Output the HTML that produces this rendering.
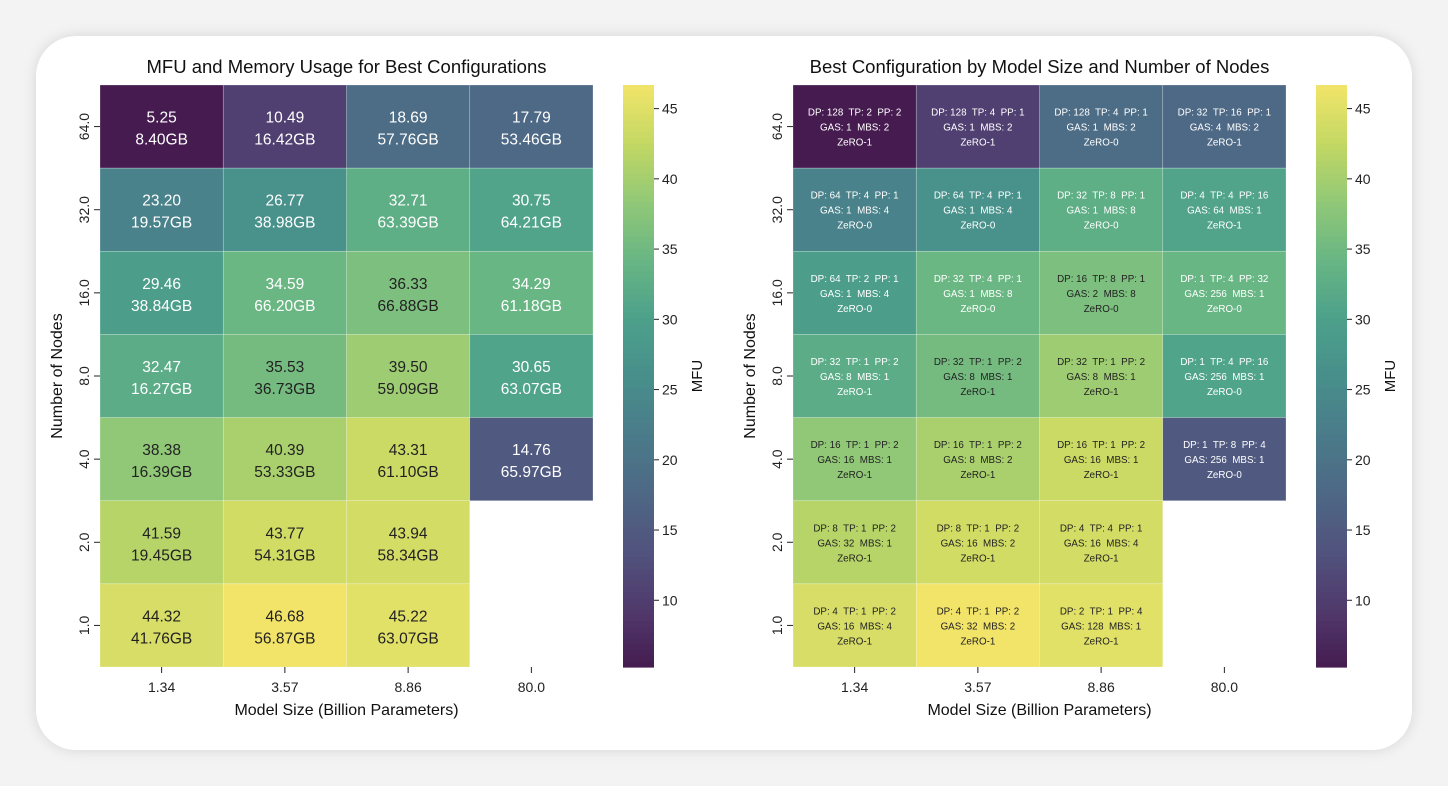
<!DOCTYPE html>
<html><head><meta charset="utf-8"><style>
html,body{margin:0;padding:0;width:1448px;height:786px;overflow:hidden;background:#f3f3f3;}
#card{position:absolute;left:36px;top:36px;width:1376px;height:714px;background:#fff;border-radius:40px;box-shadow:0 0 14px rgba(0,0,0,0.12);}
svg{position:absolute;left:0;top:0;}
text{font-family:"Liberation Sans",sans-serif;}
</style></head><body>
<div id="card"></div>
<svg id="s" width="1448" height="786" xmlns="http://www.w3.org/2000/svg"></svg>
<script>
const stops=["#440154","#482475","#414487","#355f8d","#2a788e","#21918c","#22a884","#44bf70","#7ad151","#bddf26","#fde725"];
function hex(h){return [1,3,5].map(i=>parseInt(h.substr(i,2),16));}
function vir(t){t=Math.max(0,Math.min(1,t));const p=t*10,i=Math.min(9,Math.floor(p)),f=p-i;const a=hex(stops[i]),b=hex(stops[i+1]);return a.map((v,k)=>v+(b[k]-v)*f);}
function desat(c,s){const g=0.299*c[0]+0.587*c[1]+0.114*c[2];return c.map(v=>Math.max(0,Math.min(255,g+s*(v-g))));}
function rgb(c){return `rgb(${c.map(Math.round).join(",")})`;}
const vmin=5.25,vmax=46.68,S=0.68,A=0.93;
function colr(v){return desat(vir((v-vmin)/(vmax-vmin)),S).map(x=>x*A+255*(1-A));}
const mfu=[[5.25,10.49,18.69,17.79],[23.20,26.77,32.71,30.75],[29.46,34.59,36.33,34.29],[32.47,35.53,39.50,30.65],[38.38,40.39,43.31,14.76],[41.59,43.77,43.94,null],[44.32,46.68,45.22,null]];
const mem=[["8.40GB","16.42GB","57.76GB","53.46GB"],["19.57GB","38.98GB","63.39GB","64.21GB"],["38.84GB","66.20GB","66.88GB","61.18GB"],["16.27GB","36.73GB","59.09GB","63.07GB"],["16.39GB","53.33GB","61.10GB","65.97GB"],["19.45GB","54.31GB","58.34GB",""],["41.76GB","56.87GB","63.07GB",""]];
const cfg=[
[["DP: 128  TP: 2  PP: 2","GAS: 1  MBS: 2","ZeRO-1"],["DP: 128  TP: 4  PP: 1","GAS: 1  MBS: 2","ZeRO-1"],["DP: 128  TP: 4  PP: 1","GAS: 1  MBS: 2","ZeRO-0"],["DP: 32  TP: 16  PP: 1","GAS: 4  MBS: 2","ZeRO-1"]],
[["DP: 64  TP: 4  PP: 1","GAS: 1  MBS: 4","ZeRO-0"],["DP: 64  TP: 4  PP: 1","GAS: 1  MBS: 4","ZeRO-0"],["DP: 32  TP: 8  PP: 1","GAS: 1  MBS: 8","ZeRO-0"],["DP: 4  TP: 4  PP: 16","GAS: 64  MBS: 1","ZeRO-1"]],
[["DP: 64  TP: 2  PP: 1","GAS: 1  MBS: 4","ZeRO-0"],["DP: 32  TP: 4  PP: 1","GAS: 1  MBS: 8","ZeRO-0"],["DP: 16  TP: 8  PP: 1","GAS: 2  MBS: 8","ZeRO-0"],["DP: 1  TP: 4  PP: 32","GAS: 256  MBS: 1","ZeRO-0"]],
[["DP: 32  TP: 1  PP: 2","GAS: 8  MBS: 1","ZeRO-1"],["DP: 32  TP: 1  PP: 2","GAS: 8  MBS: 1","ZeRO-1"],["DP: 32  TP: 1  PP: 2","GAS: 8  MBS: 1","ZeRO-1"],["DP: 1  TP: 4  PP: 16","GAS: 256  MBS: 1","ZeRO-0"]],
[["DP: 16  TP: 1  PP: 2","GAS: 16  MBS: 1","ZeRO-1"],["DP: 16  TP: 1  PP: 2","GAS: 8  MBS: 2","ZeRO-1"],["DP: 16  TP: 1  PP: 2","GAS: 16  MBS: 1","ZeRO-1"],["DP: 1  TP: 8  PP: 4","GAS: 256  MBS: 1","ZeRO-0"]],
[["DP: 8  TP: 1  PP: 2","GAS: 32  MBS: 1","ZeRO-1"],["DP: 8  TP: 1  PP: 2","GAS: 16  MBS: 2","ZeRO-1"],["DP: 4  TP: 4  PP: 1","GAS: 16  MBS: 4","ZeRO-1"],null],
[["DP: 4  TP: 1  PP: 2","GAS: 16  MBS: 4","ZeRO-1"],["DP: 4  TP: 1  PP: 2","GAS: 32  MBS: 2","ZeRO-1"],["DP: 2  TP: 1  PP: 4","GAS: 128  MBS: 1","ZeRO-1"],null]];
const rows=["64.0","32.0","16.0","8.0","4.0","2.0","1.0"],cols=["1.34","3.57","8.86","80.0"];
let o="";
const T=85,B=667,ch=(B-T)/7,cw=123.25;
function txt(x,y,s,sz,fill,extra){return `<text x="${x}" y="${y}" font-size="${sz}" fill="${fill}" text-anchor="middle" ${extra||""} xml:space="preserve">${s}</text>`;}
function panel(L,title,right,cbx){
 o+=txt(L+2*cw,73,title,18.5,"#111");
 for(let r=0;r<7;r++)for(let c=0;c<4;c++){const v=mfu[r][c];if(v==null)continue;
  const col=colr(v);const x=L+c*cw,y=T+r*ch;
  o+=`<rect x="${x}" y="${y}" width="${cw}" height="${ch}" fill="${rgb(col)}" stroke="#fff" stroke-width="0.6" stroke-opacity="0.4"/>`;
  const tc=v>=35?"#222":"#fff",cx=x+cw/2,cy=y+ch/2;
  if(!right){o+=txt(cx,cy-4,v.toFixed(2),15.5,tc)+txt(cx,cy+18,mem[r][c],15.5,tc);}
  else{const k=cfg[r][c];o+=txt(cx,cy-11,k[0],9.8,tc)+txt(cx,cy+4,k[1],9.8,tc)+txt(cx,cy+19,k[2],9.8,tc);}
 }
 for(let r=0;r<7;r++){const y=T+r*ch+ch/2;o+=`<line x1="${L-6}" y1="${y}" x2="${L}" y2="${y}" stroke="#222"/>`;o+=`<text x="${L-11}" y="${y}" font-size="14" fill="#222" text-anchor="middle" transform="rotate(-90 ${L-11} ${y})">${rows[r]}</text>`;}
 for(let c=0;c<4;c++){const x=L+c*cw+cw/2;o+=`<line x1="${x}" y1="${B}" x2="${x}" y2="${B+6}" stroke="#222"/>`;o+=txt(x,B+25,cols[c],14,"#222");}
 o+=txt(L+2*cw,B+48,"Model Size (Billion Parameters)",16,"#111");
 o+=`<text x="${L-38}" y="${(T+B)/2}" font-size="16" fill="#111" text-anchor="middle" transform="rotate(-90 ${L-38} ${(T+B)/2})">Number of Nodes</text>`;
 for(let i=0;i<100;i++){const t0=i/100;const y=B-(i+1)*(B-T)/100;o+=`<rect x="${cbx}" y="${y}" width="31" height="${(B-T)/100+0.6}" fill="${rgb(colr(vmin+(t0+0.005)*(vmax-vmin)))}"/>`;}
 for(let v=10;v<=45;v+=5){const y=B-(v-vmin)/(vmax-vmin)*(B-T);o+=`<line x1="${cbx+31}" y1="${y}" x2="${cbx+36}" y2="${y}" stroke="#222"/>`;o+=`<text x="${cbx+39}" y="${y+5}" font-size="14" fill="#222">${v}</text>`;}
 const mx=cbx+79,my=(T+B)/2;o+=`<text x="${mx}" y="${my}" font-size="15" fill="#111" text-anchor="middle" transform="rotate(-90 ${mx} ${my})">MFU</text>`;
}
panel(100,"MFU and Memory Usage for Best Configurations",false,623);
panel(793,"Best Configuration by Model Size and Number of Nodes",true,1316);
document.getElementById("s").innerHTML=o;
</script>
</body></html>
